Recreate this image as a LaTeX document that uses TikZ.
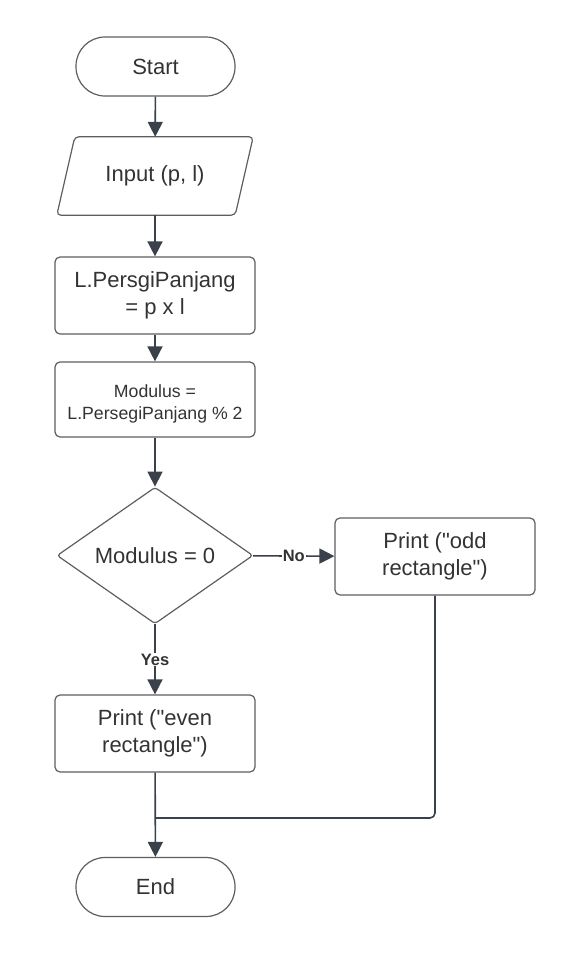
\documentclass[tikz,border=0pt]{standalone}
\usepackage{fontspec}
\defaultfontfeatures{}
\setmainfont{Liberation Sans}[Ligatures=TeXOff]
\usepackage{tikz}
\usetikzlibrary{shapes.geometric,arrows.meta,calc}
\definecolor{linegray}{HTML}{3A414A}
\definecolor{boxgray}{HTML}{5E5E5E}
\definecolor{textgray}{HTML}{333333}
\tikzset{
  terminal/.style={draw=boxgray, line width=1.2pt, rounded corners=29pt,
    minimum width=159pt, minimum height=59pt, text=textgray,
    font=\fontsize{22}{27}\selectfont},
  process/.style={draw=boxgray, line width=1.2pt, rounded corners=5pt,
    minimum width=200pt, minimum height=77pt, align=center, text=textgray,
    font=\fontsize{22}{27}\selectfont},
  decision/.style={diamond, draw=boxgray, line width=1.2pt, rounded corners=3pt,
    minimum width=196pt, minimum height=125pt, inner sep=0pt, text=textgray,
    font=\fontsize{22}{27}\selectfont},
  flow/.style={draw=linegray, line width=1.6pt, -{Triangle[length=15pt,width=15pt]}},
  branch/.style={fill=white, text=textgray, inner sep=1pt,
    font=\fontsize{16.5}{18}\selectfont\bfseries}
}
\begin{document}
\begin{tikzpicture}[x=1pt,y=-1pt]
  \useasboundingbox (0,0) rectangle (566,961);
    % start and input
    \node[terminal] (start) at (155.5,66.5) {Start};
    \node[minimum width=178pt, minimum height=78pt, inner sep=0pt, text=textgray,
      font=\fontsize{22}{27}\selectfont] (input) at (155,176) {Input (p, l)};
    \draw[draw=boxgray, line width=1.2pt, rounded corners=4pt]
      ($(input.north west)+(9,0)$) -- ($(input.north east)+(9,0)$)
      -- ($(input.south east)+(-9,0)$) -- ($(input.south west)+(-9,0)$) -- cycle;
    % area and modulus
    \node[process] (area) at (155,295.5) {L.PersgiPanjang\\= p x l};
    \node[process, minimum height=75pt, font=\fontsize{17.7}{22}\selectfont]
      (mod) at (155,399.5) {\mbox{}\\Modulus =\\L.PersegiPanjang \% 2};
    % decision
    \node[decision] (check) at (155,555.5) {Modulus = 0};
    \node[process] (odd) at (435,556.5) {Print ("odd\\rectangle")};
    \node[process] (even) at (155,733.5) {Print ("even\\rectangle")};
    % end
    \node[terminal] (end) at (155.5,887) {End};
    \coordinate (join) at (155,818);
    % connectors
    \draw[flow] (start) -- (input);
    \draw[flow] (input) -- (area);
    \draw[flow] (area) -- (mod);
    \draw[flow] (mod) -- (check);
    \draw[flow] (check) -- node[branch]{No} (odd);
    \draw[flow] (check) -- node[branch]{Yes} (even);
    \draw[draw=linegray, line width=1.6pt, rounded corners=5pt] (odd.south) |- (join);
    \draw[flow] (even) -- (end);
  \end{tikzpicture}
\end{document}
